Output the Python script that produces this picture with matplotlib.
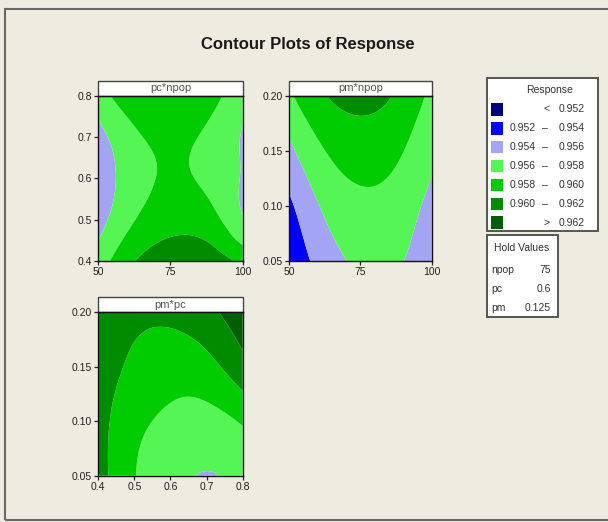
import numpy as np
import matplotlib
matplotlib.use("Agg")
import matplotlib.pyplot as plt
import matplotlib.tri as mtri
from matplotlib.patches import Rectangle

plt.rcParams['font.family'] = ['Liberation Sans', 'DejaVu Sans']

W, H = 608, 522
BG = '#eeebe0'
TXT = '#333333'

# contour bands of the response
levels = [0.940, 0.952, 0.954, 0.956, 0.958, 0.960, 0.962, 0.980]
colors = ['#000080', '#0000ff', '#a4a4f4', '#55f555', '#00cc00', '#008c00', '#006000']
band_lo = ['', '0.952', '0.954', '0.956', '0.958', '0.960', '']
band_hi = ['0.952', '0.954', '0.956', '0.958', '0.960', '0.962', '0.962']

npop = [50, 62.5, 75, 87.5, 100]
pc = [0.4, 0.5, 0.6, 0.7, 0.8]
pm = [0.05, 0.0875, 0.125, 0.1625, 0.2]

# rows = pc, cols = npop  (pm held at 0.125)
resp_pc_npop = [
    [0.95695, 0.95994, 0.96137, 0.96125, 0.95958],
    [0.95518, 0.95795, 0.95918, 0.95885, 0.95615],
    [0.95463, 0.95719, 0.95820, 0.95766, 0.95585],
    [0.95530, 0.95765, 0.95845, 0.95769, 0.95585],
    [0.95719, 0.95933, 0.95980, 0.95894, 0.95642],
]
# rows = pm, cols = npop  (pc held at 0.6)
resp_pm_npop = [
    [0.95240, 0.95496, 0.95638, 0.95627, 0.95464],
    [0.95319, 0.95596, 0.95720, 0.95692, 0.95512],
    [0.95453, 0.95712, 0.95819, 0.95773, 0.95595],
    [0.95603, 0.95844, 0.95933, 0.95870, 0.95654],
    [0.95768, 0.95992, 0.96064, 0.95983, 0.95750],
]
# rows = pm, cols = pc  (npop held at 75)
resp_pm_pc = [
    [0.96090, 0.95810, 0.95660, 0.95592, 0.95660],
    [0.96080, 0.95840, 0.95730, 0.95690, 0.95760],
    [0.96090, 0.95910, 0.95820, 0.95830, 0.95980],
    [0.96130, 0.95980, 0.95920, 0.95990, 0.96190],
    [0.96160, 0.96060, 0.96060, 0.96150, 0.96320],
]

hold_names = ['npop', 'pc', 'pm']
hold_values = ['75', '0.6', '0.125']


def fx(px):
    return px / W


def fy(py):
    return 1 - py / H


fig = plt.figure(figsize=(W / 100, H / 100), dpi=100, facecolor=BG)

# outer frame (right edge runs off the canvas)
fig.add_artist(Rectangle((fx(5), fy(519.5)), fx(620), 511 / H, transform=fig.transFigure,
                         fill=False, ec='#6a6a6a', lw=1.5))

fig.text(fx(308), fy(44), 'Contour Plots of Response', ha='center', va='center',
         fontsize=12, fontweight='bold', color='#1a1a1a')


def panel(box, x, y, z, xticks, yticks, xlab, ylab, title):
    left, top, right, bottom = box
    ax = fig.add_axes([fx(left), fy(bottom), fx(right - left), (bottom - top) / H])
    x = np.asarray(x, float)
    y = np.asarray(y, float)
    z = np.asarray(z, float)
    X, Y = np.meshgrid((x - x[0]) / (x[-1] - x[0]), (y - y[0]) / (y[-1] - y[0]))
    tri = mtri.Triangulation(X.ravel(), Y.ravel())
    interp = mtri.CubicTriInterpolator(tri, z.ravel(), kind='min_E')
    tri_f, z_f = mtri.UniformTriRefiner(tri).refine_field(z.ravel(), triinterpolator=interp, subdiv=4)
    tri_d = mtri.Triangulation(x[0] + tri_f.x * (x[-1] - x[0]),
                               y[0] + tri_f.y * (y[-1] - y[0]), tri_f.triangles)
    ax.tricontourf(tri_d, z_f, levels=levels, colors=colors, antialiased=True)
    ax.set_xlim(x[0], x[-1])
    ax.set_ylim(y[0], y[-1])
    ax.set_xticks(xticks)
    ax.set_xticklabels(xlab)
    ax.set_yticks(yticks)
    ax.set_yticklabels(ylab)
    ax.tick_params(direction='out', length=3, width=0.9, labelsize=7.5,
                   colors='#222222', pad=1.5)
    for s in ax.spines.values():
        s.set_color('#111111')
        s.set_linewidth(1)
    h = 15 / (bottom - top)
    ax.add_patch(Rectangle((0, 1), 1, h, transform=ax.transAxes, clip_on=False,
                           fc='white', ec='#444444', lw=1))
    ax.text(0.5, 1 + h / 2, title, transform=ax.transAxes, ha='center', va='center',
            fontsize=8, color='#555555')
    return ax


panel((98.3, 95.7, 242.7, 261), npop, pc, resp_pc_npop,
      [50, 75, 100], pc, ['50', '75', '100'], ['0.4', '0.5', '0.6', '0.7', '0.8'], 'pc*npop')
panel((289, 95.7, 431.7, 261), npop, pm, resp_pm_npop,
      [50, 75, 100], [0.05, 0.10, 0.15, 0.20], ['50', '75', '100'],
      ['0.05', '0.10', '0.15', '0.20'], 'pm*npop')
panel((98.3, 312.3, 242.7, 475.7), pc, pm, resp_pm_pc,
      pc, [0.05, 0.10, 0.15, 0.20], ['0.4', '0.5', '0.6', '0.7', '0.8'],
      ['0.05', '0.10', '0.15', '0.20'], 'pm*pc')

# response legend
fig.add_artist(Rectangle((fx(486.7), fy(231)), fx(598 - 486.7), (231 - 78.3) / H,
                         transform=fig.transFigure, fc='white', ec='#555555', lw=1.4))
fig.text(fx(549.5), fy(90), 'Response', ha='center', va='center', fontsize=7.5, color=TXT)
for i, c in enumerate(colors):
    yc = 109.3 + i * 18.9
    fig.add_artist(Rectangle((fx(490.7), fy(yc + 6.3)), fx(12.6), 12.6 / H,
                             transform=fig.transFigure, fc=c, ec='none'))
    if i == 0:
        fig.text(fx(547), fy(yc), '<', ha='center', va='center', fontsize=7.5, color=TXT)
    elif i == len(colors) - 1:
        fig.text(fx(547), fy(yc), '>', ha='center', va='center', fontsize=7.5, color=TXT)
    else:
        fig.text(fx(536), fy(yc), band_lo[i], ha='right', va='center', fontsize=7.5, color=TXT)
        fig.text(fx(545), fy(yc), '–', ha='center', va='center', fontsize=7.5, color=TXT)
    fig.text(fx(585), fy(yc), band_hi[i], ha='right', va='center', fontsize=7.5, color=TXT)

# hold values box
fig.add_artist(Rectangle((fx(486.7), fy(317)), fx(558 - 486.7), (317 - 235) / H,
                         transform=fig.transFigure, fc='white', ec='#555555', lw=1.4))
fig.text(fx(522), fy(248), 'Hold Values', ha='center', va='center', fontsize=7.5, color=TXT)
for i, (n, v) in enumerate(zip(hold_names, hold_values)):
    yc = 270 + i * 18.8
    fig.text(fx(491.5), fy(yc), n, ha='left', va='center', fontsize=7.5, color=TXT)
    fig.text(fx(551), fy(yc), v, ha='right', va='center', fontsize=7.5, color=TXT)

fig.savefig('out.png', dpi=100, facecolor=BG)
